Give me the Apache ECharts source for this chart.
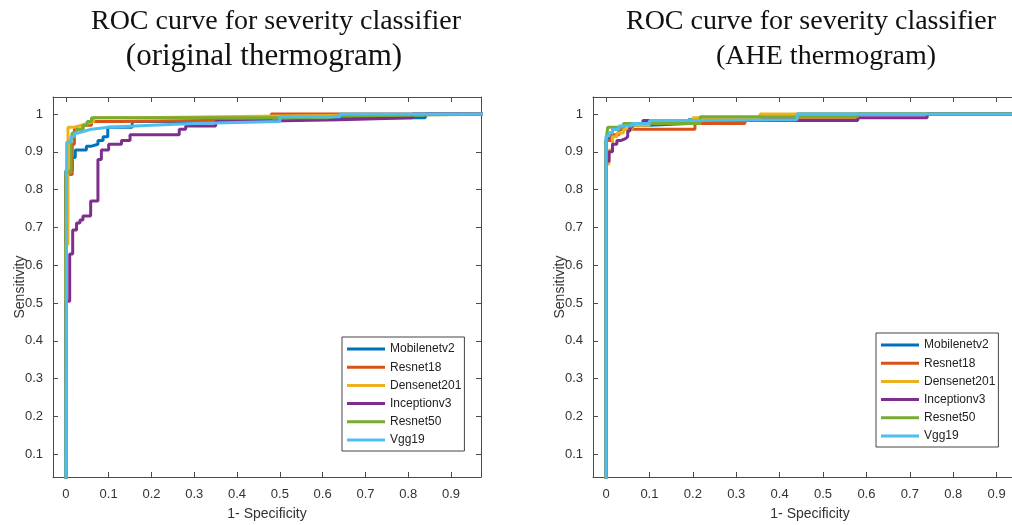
<!DOCTYPE html>
<html>
<head>
<meta charset="utf-8">
<script src="https://cdn.jsdelivr.net/npm/echarts@6/dist/echarts.min.js"></script>
<style>
html,body{margin:0;padding:0;background:#fff;}
#chart{width:1012px;height:525px;}
</style>
</head>
<body>
<div id="chart"></div>
<script>
// ---- Data ----
const modelNames = ['Mobilenetv2', 'Resnet18', 'Densenet201', 'Inceptionv3', 'Resnet50', 'Vgg19'];
const modelColors = ['#0072BD', '#D95319', '#EDB120', '#7E2F8E', '#77AC30', '#4DBEEE'];

const xTicks = [0, 0.1, 0.2, 0.3, 0.4, 0.5, 0.6, 0.7, 0.8, 0.9];
const yTicks = [0.1, 0.2, 0.3, 0.4, 0.5, 0.6, 0.7, 0.8, 0.9, 1];

// Original thermogram ROC points: [1-specificity, sensitivity]
const origMobilenetv2 = [[0,0],[0,0.85],[0.015,0.885],[0.022,0.905],[0.048,0.915],[0.06,0.92],[0.075,0.93],[0.087,0.94],[0.098,0.965],[0.155,0.98],[0.45,0.99],[0.84,1],[1,1]];
const origResnet18 = [[0,0],[0,0.84],[0.015,0.92],[0.02,0.96],[0.04,0.97],[0.06,0.98],[0.125,0.985],[0.48,1],[1,1]];
const origDensenet201 = [[0,0],[0,0.655],[0.005,0.965],[0.02,0.97],[0.035,0.975],[0.05,0.98],[0.065,0.99],[0.17,0.995],[0.5,1],[1,1]];
const origInceptionv3 = [[0,0],[0,0.505],[0.009,0.63],[0.016,0.693],[0.025,0.712],[0.033,0.72],[0.04,0.73],[0.058,0.77],[0.075,0.88],[0.083,0.905],[0.1,0.92],[0.13,0.93],[0.15,0.945],[0.265,0.96],[0.28,0.968],[0.35,0.98],[0.41,0.985],[0.64,0.99],[0.81,1],[1,1]];
const origResnet50 = [[0,0],[0,0.845],[0.012,0.93],[0.015,0.95],[0.025,0.96],[0.04,0.97],[0.05,0.98],[0.06,0.99],[0.61,0.995],[0.64,1],[1,1]];
const origVgg19 = [[0,0],[0.002,0.925],[0.012,0.94],[0.02,0.95],[0.03,0.955],[0.045,0.96],[0.06,0.965],[0.1,0.97],[0.2,0.975],[0.3,0.98],[0.5,0.993],[0.64,1],[1,1]];

// AHE thermogram ROC points
const aheMobilenetv2 = [[0,0],[0,0.93],[0.008,0.95],[0.015,0.96],[0.04,0.97],[0.1,0.975],[0.19,0.985],[0.44,1],[1,1]];
const aheResnet18 = [[0,0],[0,0.93],[0.012,0.945],[0.03,0.96],[0.205,0.975],[0.32,0.985],[0.58,1],[1,1]];
const aheDensenet201 = [[0,0],[0,0.868],[0.007,0.905],[0.015,0.94],[0.025,0.95],[0.04,0.96],[0.06,0.97],[0.1,0.98],[0.2,0.99],[0.355,1],[1,1]];
const aheInceptionv3 = [[0,0],[0,0.875],[0.007,0.9],[0.015,0.92],[0.025,0.93],[0.035,0.935],[0.045,0.94],[0.05,0.955],[0.055,0.965],[0.06,0.975],[0.085,0.983],[0.58,0.99],[0.74,1],[1,1]];
const aheResnet50 = [[0,0],[0,0.93],[0.004,0.965],[0.04,0.975],[0.217,0.993],[0.58,1],[1,1]];
const aheVgg19 = [[0,0],[0,0.942],[0.007,0.95],[0.015,0.96],[0.03,0.968],[0.06,0.975],[0.1,0.983],[0.2,0.985],[0.44,1],[1,1]];

const origData = [origMobilenetv2, origResnet18, origDensenet201, origInceptionv3, origResnet50, origVgg19];
const aheData = [aheMobilenetv2, aheResnet18, aheDensenet201, aheInceptionv3, aheResnet50, aheVgg19];

// ---- Chart ----
const chart = echarts.init(document.getElementById('chart'), null, {renderer: 'canvas'});
const sansFont = 'Liberation Sans, Arial, Helvetica, sans-serif';
const serifFont = 'Liberation Serif, Times New Roman, serif';
const axisColor = '#4a4a4a';
const fmt = v => String(+(+v).toFixed(1));

function xAxisPair(gridIndex) {
  const base = {
    type: 'value', gridIndex: gridIndex, min: -0.03, max: 0.97,
    splitLine: {show: false},
    axisLine: {show: true, onZero: false, lineStyle: {color: axisColor, width: 1}},
    axisTick: {show: true, inside: true, length: 5, lineStyle: {color: axisColor}, customValues: xTicks}
  };
  return [
    Object.assign({}, base, {
      position: 'bottom',
      axisLabel: {show: true, customValues: xTicks, formatter: fmt, margin: 11, fontSize: 13, color: '#333', fontFamily: sansFont},
      name: '1- Specificity', nameLocation: 'middle', nameGap: 30, nameMoveOverlap: false,
      nameTextStyle: {fontSize: 14, color: '#333', fontFamily: sansFont}
    }),
    Object.assign({}, base, {position: 'top', axisLabel: {show: false}})
  ];
}
function yAxisPair(gridIndex) {
  const base = {
    type: 'value', gridIndex: gridIndex, min: 0.04, max: 1.045,
    splitLine: {show: false},
    axisLine: {show: true, onZero: false, lineStyle: {color: axisColor, width: 1}},
    axisTick: {show: true, inside: true, length: 5, lineStyle: {color: axisColor}, customValues: yTicks}
  };
  return [
    Object.assign({}, base, {
      position: 'left',
      axisLabel: {show: true, customValues: yTicks, formatter: fmt, margin: 10, fontSize: 13, color: '#333', fontFamily: sansFont},
      name: 'Sensitivity', nameLocation: 'middle', nameGap: 26, nameMoveOverlap: false,
      nameTextStyle: {fontSize: 14, color: '#333', fontFamily: sansFont}
    }),
    Object.assign({}, base, {position: 'right', axisLabel: {show: false}})
  ];
}

const series = [];
origData.forEach((d, i) => series.push({
  name: modelNames[i], type: 'line', xAxisIndex: 0, yAxisIndex: 0, data: d, step: 'end',
  symbol: 'none', showSymbol: false, clip: true, color: modelColors[i],
  lineStyle: {width: 3, color: modelColors[i]}
}));
aheData.forEach((d, i) => series.push({
  name: modelNames[i], type: 'line', xAxisIndex: 2, yAxisIndex: 2, data: d, step: 'end',
  symbol: 'none', showSymbol: false, clip: true, color: modelColors[i],
  lineStyle: {width: 3, color: modelColors[i]}
}));

function legendAt(left, top) {
  return {
    data: modelNames, orient: 'vertical', left: left, top: top,
    icon: 'rect', itemWidth: 38, itemHeight: 3, itemGap: 4.2,
    padding: [5, 3, 4, 5],
    backgroundColor: '#fff', borderColor: '#444', borderWidth: 1, borderRadius: 0,
    textStyle: {fontSize: 12, color: '#222', fontFamily: sansFont, lineHeight: 14}
  };
}

const titleText = (text, x, y, size) => ({
  type: 'text', x: x, y: y,
  style: {text: text, font: size + 'px ' + serifFont, fill: '#111', align: 'center', verticalAlign: 'middle'}
});

chart.setOption({
  animation: false,
  backgroundColor: '#fff',
  grid: [
    {left: 53, top: 97, width: 428, height: 380, outerBoundsMode: 'none', containLabel: false},
    {left: 593, top: 97, width: 434, height: 380, outerBoundsMode: 'none', containLabel: false}
  ],
  xAxis: xAxisPair(0).concat(xAxisPair(1)),
  yAxis: yAxisPair(0).concat(yAxisPair(1)),
  legend: [legendAt(342, 337), legendAt(876, 333)],
  series: series,
  graphic: [
    titleText('ROC curve for severity classifier', 276, 22, 28),
    titleText('(original thermogram)', 264, 57, 31),
    titleText('ROC curve for severity classifier', 811, 22, 28),
    titleText('(AHE thermogram)', 826, 57, 28)
  ]
});
</script>
</body>
</html>
